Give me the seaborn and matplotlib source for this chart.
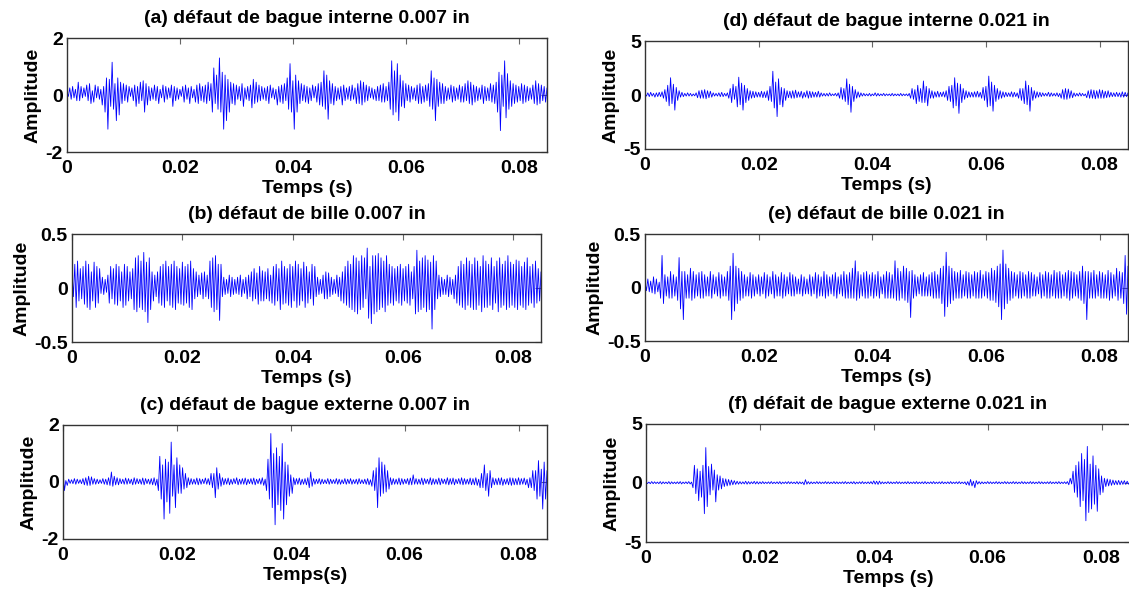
import numpy as np
import pandas as pd
import matplotlib
matplotlib.use("Agg")
import matplotlib.pyplot as plt
import seaborn as sns

# Vibration records, one sample every 0.25 ms, amplitudes stored in hundredths
SAMPLE_STEP = 0.00025
UNIT = 0.01

# (a) inner race fault, 0.007 in
sig_a = [
    10, -5, 25, -15, 30, -10, 20, -20, 45, -20, 30, -10, 25, -5, 35, -20, 40, -30, 15, -25,
    35, -10, 30, -15, 20, -35, 30, -60, 60, -120, 55, -40, 115, -50, 40, -90, 60, -70, 45, -30,
    40, -20, 35, -25, 30, -5, 25, -20, 35, -40, 30, -30, 45, -20, 50, -60, 40, -35, 30, -20,
    25, -15, 35, -20, 30, -30, 20, -10, 35, -25, 30, -15, 25, -10, 35, -40, 30, -20, 25, -15,
    20, -5, 30, -25, 35, -15, 25, -30, 30, -10, 20, -25, 35, -30, 40, -20, 30, -25, 35, -30,
    45, -20, 40, -60, 95, -30, 70, -50, 130, -60, 80, -120, 70, -90, 55, -60, 45, -30, 40, -35,
    35, -15, 30, -20, 40, -40, 25, -15, 30, -20, 35, -45, 55, -30, 45, -25, 35, -20, 30, -15,
    25, -20, 30, -30, 35, -10, 25, -15, 20, -35, 30, -25, 35, -30, 40, -20, 60, -50, 110, -60,
    50, -120, 70, -60, 50, -30, 40, -20, 35, -25, 30, -30, 25, -20, 35, -10, 30, -25, 40, -35,
    45, -40, 85, -50, 70, -85, 50, -30, 40, -35, 30, -20, 25, -15, 30, -35, 35, -20, 25, -15,
    30, -20, 35, -15, 25, -30, 40, -30, 50, -35, 45, -25, 35, -20, 30, -10, 25, -15, 20, -20,
    30, -20, 35, -25, 40, -25, 30, -20, 45, -50, 120, -70, 85, -60, 110, -90, 70, -40, 50, -45,
    40, -20, 35, -25, 30, -15, 25, -20, 35, -30, 40, -30, 30, -25, 35, -20, 40, -40, 85, -50,
    60, -90, 55, -40, 45, -30, 40, -30, 30, -20, 25, -15, 35, -25, 30, -20, 25, -15, 35, -25,
    30, -25, 40, -20, 50, -30, 45, -35, 35, -25, 30, -20, 25, -15, 35, -30, 30, -20, 25, -20,
    40, -25, 35, -30, 45, -60, 80, -125, 70, -40, 120, -80, 75, -50, 50, -40, 40, -30, 35, -25,
    30, -20, 40, -30, 35, -25, 30, -20, 25, -15, 35, -30, 50, -35, 40, -30, 35, -20, 30, -25,
    25,
]

# (b) ball fault, 0.007 in
sig_b = [
    15, -8, 22, -18, 25, -12, 18, -10, 20, -15, 25, -18, 22, -20, 15, -12, 24, -18, 20, -14,
    18, -5, 10, -6, 8, -4, 12, -14, 20, -10, 18, -15, 22, -16, 20, -12, 15, -18, 22, -16,
    20, -12, 15, -10, 18, -20, 28, -22, 30, -18, 25, -20, 33, -22, 24, -32, 28, -20, 15, -12,
    12, -8, 15, -14, 20, -16, 22, -18, 25, -12, 20, -16, 22, -18, 25, -20, 20, -14, 18, -15,
    24, -16, 20, -14, 22, -18, 25, -20, 18, -10, 15, -8, 12, -6, 14, -10, 15, -8, 12, -10,
    25, -18, 28, -22, 30, -20, 22, -30, 22, -8, 10, -6, 8, -5, 12, -8, 10, -6, 8, -5,
    10, -6, 12, -8, 8, -5, 10, -10, 12, -8, 15, -12, 18, -10, 14, -15, 20, -12, 16, -12,
    15, -10, 18, -12, 12, -14, 20, -16, 22, -12, 18, -20, 25, -15, 20, -14, 18, -16, 22, -18,
    20, -12, 25, -18, 22, -16, 18, -12, 24, -18, 20, -14, 15, -10, 22, -16, 20, -8, 10, -6,
    8, -5, 12, -10, 15, -10, 14, -8, 10, -6, 8, -5, 12, -8, 10, -12, 15, -14, 20, -16,
    25, -18, 22, -20, 30, -22, 28, -24, 25, -20, 30, -18, 28, -10, 37, -28, 20, -33, 30, -24,
    30, -22, 32, -20, 28, -18, 25, -22, 30, -16, 22, -14, 20, -16, 18, -12, 20, -14, 22, -16,
    18, -12, 20, -14, 22, -16, 15, -10, 20, -24, 35, -22, 25, -20, 28, -18, 30, -22, 26, -20,
    24, -38, 30, -20, 25, -10, 12, -8, 10, -6, 8, -6, 12, -8, 10, -6, 8, -10, 12, -14,
    20, -16, 25, -18, 22, -20, 28, -16, 25, -18, 22, -20, 28, -20, 25, -16, 20, -22, 30, -18,
    25, -18, 22, -16, 28, -20, 20, -14, 25, -22, 28, -18, 22, -16, 25, -20, 30, -18, 24, -16,
    22, -18, 26, -20, 25, -16, 20, -18, 24, -20, 28, -16, 20, -14, 22, -18, 25, -14, 18, -12,
    15,
]

# (c) outer race fault, 0.007 in
sig_c = [
    40, -30, 5, -12, 10, -5, 8, -6, 12, -8, 10, -5, 8, -6, 12, -10, 15, -12, 20, -12,
    18, -8, 12, -8, 10, -6, 8, -5, 12, -8, 10, -10, 15, -12, 35, -15, 20, -10, 15, -10,
    12, -6, 10, -8, 14, -8, 12, -6, 10, -10, 15, -8, 12, -6, 10, -8, 14, -10, 12, -6,
    10, -8, 12, -10, 15, -12, 10, -30, 90, -60, 60, -130, 80, -70, 70, -110, 140, -50, 60, -90,
    85, -40, 60, -40, 50, -25, 30, -20, 15, -10, 12, -8, 10, -8, 14, -10, 12, -8, 10, -6,
    14, -8, 12, -10, 30, -20, 30, -55, 50, -25, 30, -15, 15, -10, 12, -8, 14, -10, 10, -8,
    12, -6, 15, -10, 10, -8, 12, -8, 14, -10, 10, -6, 12, -8, 14, -10, 10, -6, 12, -8,
    15, -12, 10, -30, 80, -60, 170, -90, 100, -150, 120, -80, 90, -100, 135, -130, 70, -80, 60, -50,
    25, -40, 15, -10, 12, -8, 14, -10, 10, -8, 12, -10, 15, -20, 35, -15, 12, -8, 10, -6,
    12, -8, 10, -6, 8, -6, 12, -8, 10, -6, 8, -6, 12, -8, 10, -8, 8, -6, 12, -8,
    10, -6, 12, -8, 8, -6, 10, -8, 12, -6, 8, -6, 10, -8, 12, -10, 8, -15, 40, -30,
    50, -90, 85, -50, 70, -40, 60, -35, 40, -25, 15, -10, 12, -8, 10, -8, 14, -10, 12, -8,
    10, -6, 12, -10, 14, -10, 25, -8, 12, -8, 10, -8, 14, -10, 12, -6, 10, -8, 15, -10,
    12, -8, 10, -8, 14, -10, 12, -6, 10, -8, 15, -10, 12, -8, 14, -10, 10, -6, 12, -8,
    15, -10, 12, -8, 10, -8, 14, -10, 12, -10, 15, -12, 10, -20, 30, -20, 60, -30, 30, -50,
    40, -20, 15, -10, 12, -10, 14, -10, 15, -12, 10, -8, 12, -10, 15, -12, 14, -10, 12, -10,
    15, -10, 12, -8, 14, -10, 10, -20, 15, -20, 40, -30, 40, -60, 75, -50, 45, -95, 70, -60,
    40,
]

# (d) inner race fault, 0.021 in
sig_d = [
    10, -10, 20, -15, 25, -10, 15, -20, 20, -15, 25, -15, 30, -30, 50, -60, 90, -100, 160, -80,
    100, -140, 70, -50, 40, -20, 25, -15, 15, -10, 20, -10, 15, -10, 10, -8, 20, -25, 40, -30,
    45, -30, 50, -35, 40, -25, 35, -20, 20, -10, 15, -10, 20, -15, 25, -15, 15, -10, 20, -30,
    60, -70, 100, -40, 80, -110, 165, -90, 110, -140, 90, -70, 60, -50, 40, -30, 35, -25, 30, -20,
    25, -20, 35, -25, 30, -25, 40, -50, 80, -60, 220, -120, 120, -200, 150, -90, 70, -110, 60, -50,
    40, -25, 35, -30, 40, -30, 45, -25, 30, -20, 35, -30, 25, -20, 40, -30, 35, -25, 30, -20,
    25, -20, 35, -20, 20, -10, 15, -10, 15, -10, 20, -8, 10, -6, 15, -10, 20, -30, 70, -40,
    60, -60, 150, -90, 100, -160, 80, -60, 50, -30, 30, -20, 20, -10, 15, -8, 10, -8, 15, -10,
    10, -6, 20, -10, 15, -8, 10, -6, 15, -8, 10, -5, 10, -8, 15, -8, 10, -6, 10, -8,
    15, -8, 10, -6, 10, -8, 15, -30, 60, -40, 50, -80, 90, -60, 60, -70, 130, -70, 80, -100,
    60, -30, 40, -30, 30, -20, 35, -20, 25, -15, 30, -20, 40, -50, 80, -60, 90, -120, 160, -100,
    110, -170, 100, -70, 60, -40, 40, -25, 30, -20, 25, -20, 30, -20, 35, -20, 25, -30, 70, -50,
    80, -110, 175, -100, 120, -150, 90, -60, 60, -40, 40, -30, 30, -20, 25, -15, 20, -15, 30, -20,
    25, -15, 20, -30, 60, -50, 60, -80, 130, -90, 90, -150, 70, -50, 40, -30, 30, -20, 25, -15,
    20, -10, 15, -10, 25, -15, 20, -10, 15, -10, 20, -15, 15, -30, 50, -40, 60, -40, 55, -30,
    40, -25, 20, -12, 15, -10, 20, -10, 15, -8, 10, -25, 40, -30, 50, -30, 45, -35, 40, -30,
    50, -30, 45, -30, 35, -25, 40, -20, 25, -15, 20, -15, 25, -15, 20, -20, 30, -20, 25, -15,
    20,
]

# (e) ball fault, 0.021 in
sig_e = [
    5, -3, 8, -4, 6, -5, 10, -6, 8, -4, 5, -10, 30, -15, 12, -8, 10, -10, 15, -10,
    12, -8, 10, -12, 28, -20, 15, -30, 15, -10, 12, -10, 18, -12, 15, -10, 12, -8, 14, -10,
    15, -10, 12, -8, 10, -8, 15, -10, 12, -6, 10, -8, 14, -10, 12, -8, 10, -8, 15, -12,
    20, -30, 32, -22, 20, -15, 18, -12, 15, -10, 12, -8, 10, -8, 14, -10, 12, -8, 10, -6,
    12, -8, 10, -6, 14, -10, 12, -8, 10, -6, 15, -10, 12, -8, 10, -8, 14, -10, 12, -8,
    10, -6, 14, -8, 12, -8, 10, -6, 8, -6, 12, -8, 10, -6, 8, -6, 12, -8, 10, -6,
    14, -10, 12, -8, 10, -8, 15, -10, 12, -8, 10, -6, 12, -8, 14, -10, 10, -6, 12, -8,
    15, -10, 12, -10, 14, -10, 18, -10, 25, -12, 15, -10, 12, -8, 14, -10, 15, -10, 12, -8,
    14, -10, 12, -8, 15, -10, 10, -6, 12, -10, 15, -10, 14, -10, 12, -10, 25, -12, 18, -12,
    15, -10, 20, -12, 18, -14, 15, -28, 16, -10, 12, -8, 10, -6, 12, -8, 14, -8, 10, -8,
    12, -8, 14, -10, 15, -10, 12, -10, 18, -15, 20, -27, 33, -18, 20, -15, 18, -12, 15, -10,
    14, -10, 16, -10, 12, -8, 15, -10, 14, -10, 12, -8, 15, -10, 14, -10, 16, -10, 12, -8,
    15, -10, 14, -12, 18, -12, 16, -14, 20, -18, 22, -30, 35, -20, 22, -15, 18, -12, 15, -10,
    14, -8, 12, -10, 15, -10, 14, -8, 12, -10, 15, -10, 14, -8, 12, -8, 10, -6, 14, -10,
    12, -8, 15, -10, 14, -10, 12, -8, 16, -10, 14, -10, 15, -10, 12, -8, 14, -10, 16, -12,
    15, -10, 14, -8, 12, -10, 15, -12, 20, -15, 15, -30, 15, -10, 14, -10, 16, -10, 12, -8,
    15, -10, 14, -10, 12, -10, 16, -12, 14, -10, 12, -8, 18, -12, 15, -10, 14, -15, 30, -25,
    20,
]

# (f) outer race fault, 0.021 in
sig_f = [
    10, -5, 8, -6, 12, -6, 10, -5, 8, -6, 12, -8, 10, -5, 8, -6, 12, -8, 10, -6,
    8, -6, 10, -6, 12, -8, 8, -5, 10, -6, 12, -8, 8, -40, 150, -90, 120, -150, 100, -120,
    150, -260, 300, -200, 140, -100, 160, -60, 110, -160, 70, -60, 60, -50, 40, -30, 35, -25, 30, -20,
    25, -15, 20, -12, 15, -10, 12, -8, 10, -8, 15, -10, 12, -8, 10, -6, 14, -8, 12, -8,
    10, -6, 12, -6, 8, -5, 10, -6, 12, -6, 8, -5, 10, -6, 12, -8, 8, -5, 10, -6,
    12, -6, 10, -5, 8, -6, 12, -8, 10, -6, 8, -15, 28, -10, 12, -8, 10, -6, 8, -5,
    12, -6, 10, -6, 8, -5, 12, -6, 10, -6, 8, -5, 12, -6, 10, -6, 8, -5, 10, -6,
    12, -6, 8, -5, 10, -6, 12, -8, 8, -5, 10, -6, 12, -6, 8, -5, 10, -6, 12, -8,
    18, -10, 15, -12, 16, -8, 10, -6, 8, -5, 12, -6, 10, -6, 8, -5, 12, -6, 10, -6,
    8, -5, 10, -6, 12, -6, 8, -5, 10, -6, 12, -6, 8, -5, 10, -6, 12, -6, 8, -5,
    10, -6, 12, -6, 8, -5, 10, -6, 12, -6, 8, -5, 10, -6, 12, -6, 8, -5, 10, -6,
    12, -6, 8, -5, 10, -15, 12, -20, 30, -25, 15, -40, 20, -10, 12, -8, 10, -6, 8, -5,
    12, -6, 10, -6, 8, -5, 12, -6, 10, -6, 8, -5, 12, -6, 10, -6, 8, -5, 12, -6,
    10, -6, 8, -5, 12, -6, 10, -6, 8, -5, 12, -6, 10, -6, 8, -5, 12, -6, 10, -6,
    8, -5, 10, -6, 12, -6, 8, -5, 10, -6, 12, -6, 8, -5, 10, -6, 12, -15, 40, -8,
    100, -80, 150, -120, 180, -200, 250, -150, 200, -320, 310, -250, 160, -220, 230, -180, 150, -240, 120, -100,
    60, -80, 40, -30, 35, -25, 30, -20, 25, -15, 20, -15, 22, -15, 18, -12, 20, -12, 15, -10,
    12,
]

titles = [
    "(a) défaut de bague interne 0.007 in",
    "(b) défaut de bille 0.007 in",
    "(c) défaut de bague externe 0.007 in",
    "(d) défaut de bague interne 0.021 in",
    "(e) défaut de bille 0.021 in",
    "(f) défait de bague externe 0.021 in",
]
xlabels = ["Temps (s)", "Temps (s)", "Temps(s)", "Temps (s)", "Temps (s)", "Temps (s)"]
ylabel = "Amplitude"
x_ticks = [0, 0.02, 0.04, 0.06, 0.08]
x_tick_labels = ["0", "0.02", "0.04", "0.06", "0.08"]
y_ticks = [[-2, 0, 2], [-0.5, 0, 0.5], [-2, 0, 2], [-5, 0, 5], [-0.5, 0, 0.5], [-5, 0, 5]]
y_tick_labels = [["-2", "0", "2"], ["-0.5", "0", "0.5"], ["-2", "0", "2"],
                 ["-5", "0", "5"], ["-0.5", "0", "0.5"], ["-5", "0", "5"]]
signals = [sig_a, sig_b, sig_c, sig_d, sig_e, sig_f]

# axes rectangles in figure fractions: left, bottom, width, height
rects = [
    [0.0593, 0.7428, 0.4252, 0.1929],
    [0.0638, 0.4213, 0.4154, 0.1827],
    [0.0558, 0.0880, 0.4287, 0.1929],
    [0.5713, 0.7479, 0.4278, 0.1827],
    [0.5713, 0.4230, 0.4278, 0.1810],
    [0.5722, 0.0829, 0.4287, 0.1997],
]

sns.set_theme(style="white")
plt.rcParams["font.family"] = ["Liberation Sans", "DejaVu Sans"]
plt.rcParams["font.weight"] = "bold"
plt.rcParams["axes.unicode_minus"] = False

fig = plt.figure(figsize=(11.29, 5.91), dpi=100)

for sig, title, xl, yt, ytl, rect in zip(signals, titles, xlabels, y_ticks, y_tick_labels, rects):
    ax = fig.add_axes(rect)
    amp = np.asarray(sig, dtype=float) * UNIT
    df = pd.DataFrame({"t": np.arange(len(amp)) * SAMPLE_STEP, "amp": amp})
    sns.lineplot(data=df, x="t", y="amp", ax=ax, color="#0000ff",
                 linewidth=0.6, estimator=None, sort=False)
    ax.set_xlim(0, 0.085)
    ax.set_ylim(yt[0], yt[-1])
    ax.set_xticks(x_ticks)
    ax.set_xticklabels(x_tick_labels, fontsize=14, fontweight="bold")
    ax.set_yticks(yt)
    ax.set_yticklabels(ytl, fontsize=14, fontweight="bold")
    ax.set_title(title, fontsize=14, fontweight="bold", pad=11, color="black")
    ax.set_xlabel(xl, fontsize=14, fontweight="bold", labelpad=2.5, color="black")
    ax.set_ylabel(ylabel, fontsize=14, fontweight="bold", labelpad=3, color="black")
    ax.tick_params(axis="both", direction="in", top=True, right=True,
                   length=4, width=0.8, color="#666666", labelcolor="black")
    ax.tick_params(axis="x", pad=5.5)
    ax.tick_params(axis="y", pad=3)
    for sp in ax.spines.values():
        sp.set_color("#333333")
        sp.set_linewidth(1.0)
        sp.set_visible(True)
    ax.set_facecolor("white")

fig.savefig("out.png", dpi=100, facecolor="white")
